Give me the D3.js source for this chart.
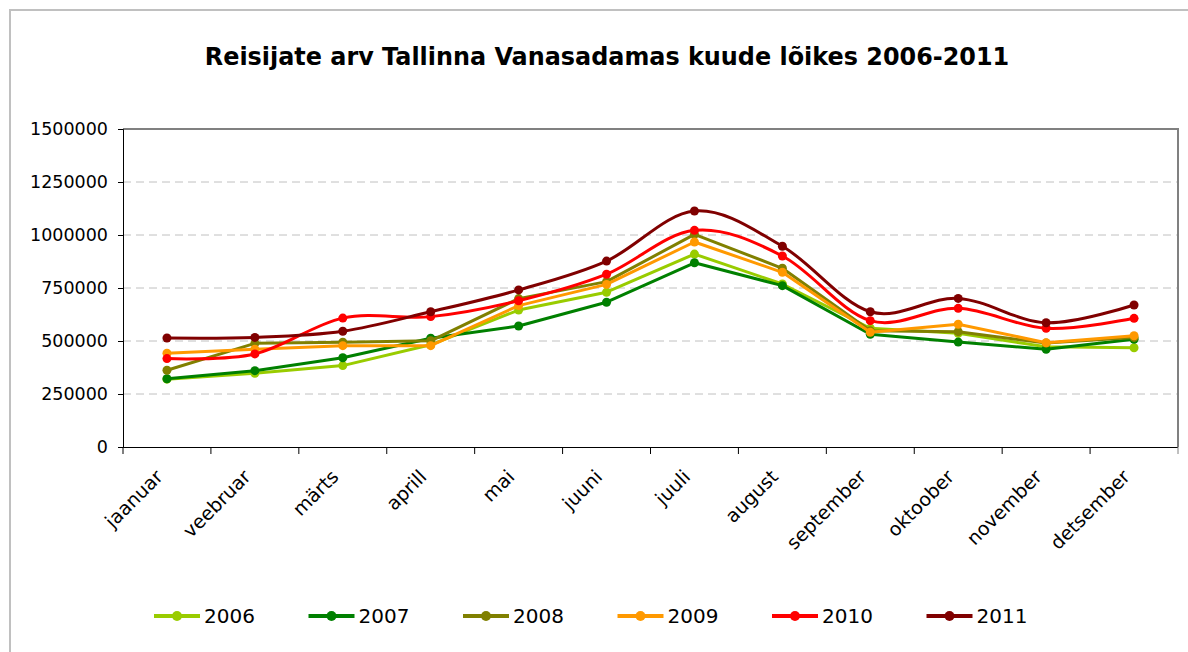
<!DOCTYPE html>
<html>
<head>
<meta charset="utf-8">
<script src="https://cdn.jsdelivr.net/npm/d3@7"></script>
<style>
  html, body { margin: 0; padding: 0; background: #fff; }
  svg { display: block; }
</style>
</head>
<body>
<svg id="chart" width="1188" height="652"></svg>
<script>
const months = ["jaanuar","veebruar","märts","aprill","mai","juuni","juuli","august","september","oktoober","november","detsember"];
const years = ["2006","2007","2008","2009","2010","2011"];
const colors = ["#99CC00","#008000","#808000","#FF9900","#FF0000","#800000"];
const smoothed = [false,false,false,false,true,true];
const v2006 = [320000,348000,384000,482000,646000,730000,910000,769000,560000,536000,473000,468000];
const v2007 = [322000,360000,421000,513000,571000,683000,869000,761000,532000,495000,461000,508000];
const v2008 = [362000,489000,494000,501000,700000,780000,1003000,843000,548000,544000,490000,517000];
const v2009 = [442000,461000,478000,478000,667000,767000,967000,824000,541000,579000,492000,525000];
const v2010 = [417000,439000,608000,615000,690000,815000,1022000,901000,596000,654000,560000,607000];
const v2011 = [514000,517000,546000,638000,741000,877000,1113000,947000,638000,701000,586000,670000];
const seriesValues = [v2006,v2007,v2008,v2009,v2010,v2011];
const yTicks = [0,250000,500000,750000,1000000,1250000,1500000];
const title = "Reisijate arv Tallinna Vanasadamas kuude lõikes 2006-2011";

const svg = d3.select("#chart");
const W = 1188, H = 652;

// outer chart border
svg.append("rect").attr("x",10).attr("y",10).attr("width",W+20).attr("height",H+20)
  .attr("fill","#fff").attr("stroke","#c0c0c0").attr("stroke-width",2);

const plot = {left:123, top:129, right:1178, bottom:447};

const x = d3.scaleBand().domain(months).range([plot.left, plot.right]).padding(0);
const y = d3.scaleLinear().domain([0,1500000]).range([plot.bottom, plot.top]);

// title
const t = svg.append("text").attr("x",607).attr("y",65)
  .attr("text-anchor","middle")
  .attr("font-family","'DejaVu Sans', Verdana, sans-serif")
  .attr("font-weight","bold").attr("font-size",20).attr("fill","#000")
  .text(title);
const tw = t.node().getComputedTextLength();
t.attr("font-size", 20*805/tw);

// gridlines
svg.append("g").selectAll("line").data(yTicks.filter(d=>d>0 && d<1500000)).join("line")
  .attr("x1",plot.left).attr("x2",plot.right)
  .attr("y1",d=>y(d)).attr("y2",d=>y(d))
  .attr("stroke","#c0c0c0").attr("stroke-width",1).attr("stroke-dasharray","8,5");

// plot border top/right
svg.append("path")
  .attr("d",`M${plot.left},${plot.top}H${plot.right}V${plot.bottom}`)
  .attr("fill","none").attr("stroke","#808080").attr("stroke-width",2);

// y axis
const yAxis = svg.append("g").attr("transform",`translate(${plot.left},0)`)
  .call(d3.axisLeft(y).tickValues(yTicks).tickFormat(d3.format("d")).tickSize(5).tickPadding(10));
yAxis.select(".domain").attr("stroke","#000");
yAxis.selectAll(".tick line").attr("stroke","#000");
yAxis.selectAll("text").attr("font-family","'DejaVu Sans', Verdana, sans-serif")
  .attr("font-size",17.5).attr("fill","#000");

// x axis
const xAxis = svg.append("g").attr("transform",`translate(0,${plot.bottom})`)
  .call(d3.axisBottom(x).tickSize(0).tickFormat(""));
xAxis.select(".domain").attr("stroke","#000").attr("d",`M${plot.left},0.5H${plot.right}`);
const bounds = months.map(m=>x(m)).concat([plot.right]);
xAxis.append("g").selectAll("line").data(bounds).join("line")
  .attr("x1",d=>d).attr("x2",d=>d).attr("y1",0).attr("y2",7)
  .attr("stroke",(d,i)=> i===bounds.length-1 ? "#808080" : "#000");
svg.append("g").selectAll("text").data(months).join("text")
  .attr("transform",d=>`translate(${x(d)+x.bandwidth()/2-3},${plot.bottom+31}) rotate(-45)`)
  .attr("text-anchor","end")
  .attr("font-family","'DejaVu Sans', Verdana, sans-serif")
  .attr("font-size",19).attr("fill","#000")
  .text(d=>d);

// series
const cx = m => x(m)+x.bandwidth()/2;
years.forEach((yr,i)=>{
  const vals = seriesValues[i];
  const data = months.map((m,j)=>({m, v:vals[j]}));
  const line = d3.line().x(d=>cx(d.m)).y(d=>y(d.v))
    .curve(smoothed[i] ? d3.curveCardinal.tension(0) : d3.curveLinear);
  const g = svg.append("g");
  g.append("path").datum(data).attr("d",line)
    .attr("fill","none").attr("stroke",colors[i]).attr("stroke-width",3)
    .attr("stroke-linejoin","round");
  g.selectAll("circle").data(data).join("circle")
    .attr("cx",d=>cx(d.m)).attr("cy",d=>y(d.v)).attr("r",4.5).attr("fill",colors[i]);
});

// legend
const leg = svg.append("g");
years.forEach((yr,i)=>{
  const c = 177 + i*154.5;
  const ly = 616;
  leg.append("line").attr("x1",c-23).attr("x2",c+23).attr("y1",ly).attr("y2",ly)
    .attr("stroke",colors[i]).attr("stroke-width",4);
  leg.append("circle").attr("cx",c).attr("cy",ly).attr("r",5).attr("fill",colors[i]);
  leg.append("text").attr("x",c+27).attr("y",ly+7)
    .attr("font-family","'DejaVu Sans', Verdana, sans-serif")
    .attr("font-size",20).attr("fill","#000").text(yr);
});
</script>
</body>
</html>
